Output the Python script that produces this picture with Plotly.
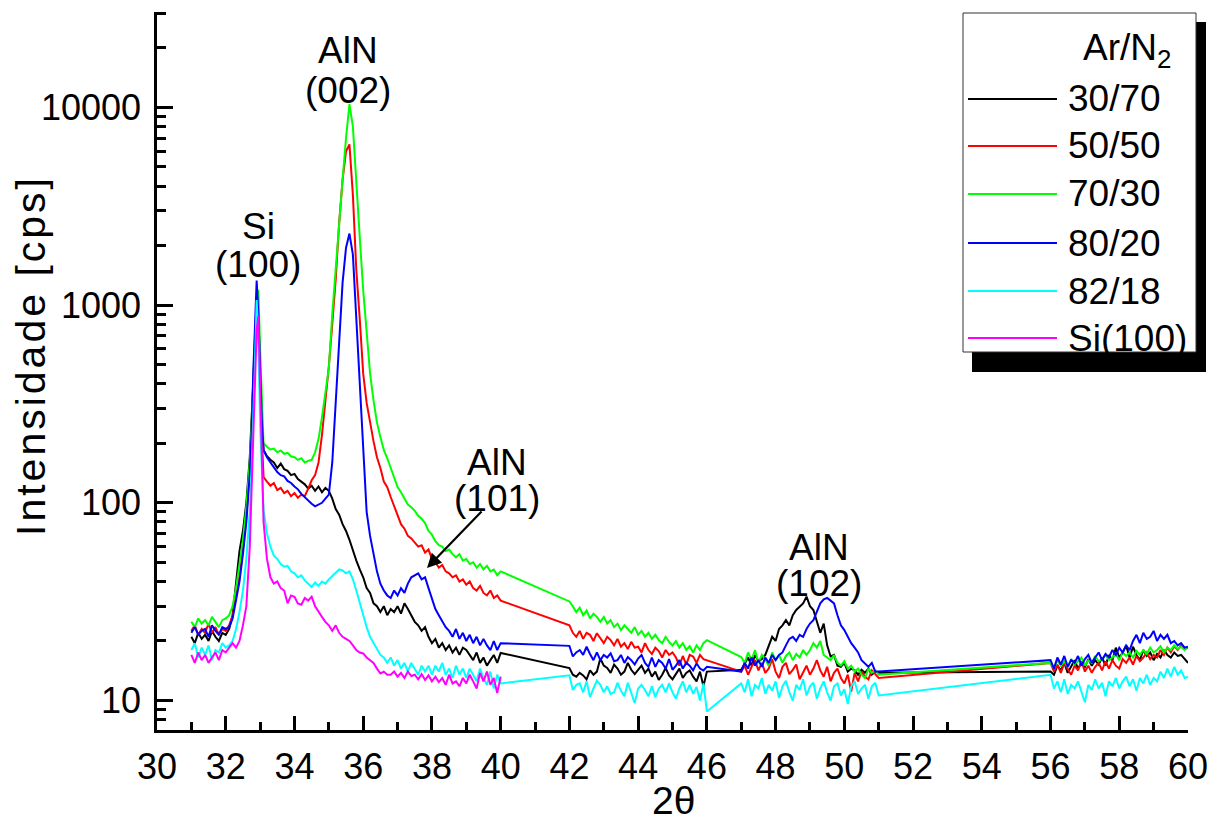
import plotly.graph_objects as go

# ---------------- data ----------------
X_A = [31.0, 31.1, 31.2, 31.3, 31.4, 31.5, 31.6, 31.7, 31.8, 31.9, 32.0,
       32.1, 32.2, 32.3, 32.4, 32.5, 32.6,
       32.7, 32.75, 32.8, 32.85, 32.9, 32.95, 33.0, 33.05, 33.1,
       33.2, 33.3, 33.4, 33.5, 33.6, 33.7, 33.8, 33.9,
       34.0, 34.1, 34.2, 34.3, 34.4, 34.5, 34.6, 34.7, 34.8, 34.9,
       35.0, 35.1, 35.2, 35.3, 35.4, 35.5, 35.6, 35.7, 35.8, 35.9,
       36.0, 36.1, 36.2, 36.3, 36.4, 36.5, 36.6, 36.7, 36.8, 36.9,
       37.0, 37.1, 37.2, 37.3, 37.4, 37.5, 37.6, 37.7, 37.8, 37.9,
       38.0, 38.1, 38.2, 38.3, 38.4, 38.5, 38.6, 38.7, 38.8, 38.9,
       39.0, 39.1, 39.2, 39.3, 39.4, 39.5, 39.6, 39.7, 39.8, 39.9,
       40.0]
X_B = [42.0, 42.1, 42.2, 42.3, 42.4, 42.5, 42.6, 42.7, 42.8, 42.9,
       43.0, 43.1, 43.2, 43.3, 43.4, 43.5, 43.6, 43.7, 43.8, 43.9,
       44.0, 44.1, 44.2, 44.3, 44.4, 44.5, 44.6, 44.7, 44.8, 44.9,
       45.0, 45.1, 45.2, 45.3, 45.4, 45.5, 45.6, 45.7, 45.8, 45.9, 46.0]
X_C = [47.0, 47.1, 47.2, 47.3, 47.4, 47.5, 47.6, 47.7, 47.8, 47.9,
       48.0, 48.1, 48.2, 48.3, 48.4, 48.5, 48.6, 48.7, 48.8, 48.9,
       49.0, 49.1, 49.2, 49.3, 49.4, 49.5, 49.6, 49.7, 49.8, 49.9,
       50.0, 50.1, 50.2, 50.3, 50.4, 50.5, 50.6, 50.7, 50.8, 50.9, 51.0]
X_D = [56.0, 56.1, 56.2, 56.3, 56.4, 56.5, 56.6, 56.7, 56.8, 56.9,
       57.0, 57.1, 57.2, 57.3, 57.4, 57.5, 57.6, 57.7, 57.8, 57.9,
       58.0, 58.1, 58.2, 58.3, 58.4, 58.5, 58.6, 58.7, 58.8, 58.9,
       59.0, 59.1, 59.2, 59.3, 59.4, 59.5, 59.6, 59.7, 59.8, 59.9, 60.0]

# 30/70
BLACK_A = [21, 19.5, 22, 20.5, 21.5, 20, 22.5, 21, 20, 22, 21.5,
           23, 27, 40, 57, 72, 100,
           170, 250, 400, 650, 800, 750, 400, 250, 185,
           172, 165, 160, 150, 158, 148, 145, 138,
           140, 132, 128, 124, 118, 122, 115, 121, 113, 119,
           115, 105, 93, 87, 78, 72, 65, 57, 51, 46,
           42, 37, 35, 31, 30, 28, 30, 27, 29, 28,
           30, 27.5, 31, 29, 27, 25, 24, 22.5, 23.5, 21,
           19.5, 20.5, 18.5, 19.5, 18, 19, 17.5, 18.5, 17, 18.5,
           18, 17, 16, 17.5, 15.5, 16.5, 15, 16, 17, 15.5,
           17.4]
BLACK_B = [14.6, 13.5, 13.2, 13.8, 13.4, 12.8, 14.2, 13.5, 14, 16.3,
           15, 14.6, 13.8, 15.2, 14.5, 13.5, 14, 15.5, 14.3, 13.6,
           14.3, 15, 13.8, 14.5, 13.2, 14, 12.7, 13.5, 14.6, 13.4,
           12.8, 13.7, 14.5, 13, 13.8, 14.2, 13.2, 12.5, 14, 11.8, 14]
BLACK_C = [14.3, 15.5, 16.5, 15, 17, 15.8, 16.2, 17, 19, 21,
           20, 23, 24, 25.5, 24, 27, 28.7, 30, 31, 33.5,
           30, 28.7, 25, 22, 24.5, 19, 16.7, 17, 15, 14.8,
           15.5, 14, 14.5, 14.2, 13.5, 14.3, 13.8, 14.5, 13.5, 14, 13.8]
BLACK_D = [14, 13.5, 15, 14.2, 15.5, 13.8, 15, 16, 14.5, 15.5,
           14.8, 16.2, 15, 16, 15.2, 16.5, 15, 17, 16, 18.5,
           16.5, 17.5, 19, 16.5, 18.7, 17, 16, 18, 16.8, 17.5,
           16, 17.2, 16.5, 18, 17, 16.5, 17.5, 16.8, 17, 16.2, 15.5]

# 50/50
RED_A = [22.5, 24, 21.5, 23, 22, 24.5, 22, 23.5, 21.5, 23, 22.5,
         24, 27, 33, 42, 58, 85,
         150, 230, 380, 600, 700, 800, 350, 200, 135,
         128, 122, 126, 116, 119, 112, 115, 108,
         112, 106, 110, 108, 118, 130, 138, 160, 220, 320,
         490, 800, 1350, 2600, 4300, 6000, 6500, 3600, 1500, 850,
         450, 320, 252, 205, 170, 150, 128, 120, 107, 96,
         86, 78, 74, 68, 66, 63, 60, 61, 56, 58,
         52, 50, 47, 48.5, 45, 44, 42, 43, 40, 41,
         38.5, 40, 37, 36, 38, 35, 34, 36, 33, 34,
         32]
RED_B = [24, 22, 21, 22.5, 20.5, 22, 21.5, 20, 21.9, 20.5,
         19.5, 21, 20.2, 19, 20.5, 18.7, 19.5, 18.2, 19.8, 18.5,
         18.7, 17.5, 19.5, 18, 17.2, 18.5, 17.8, 16.5, 18, 17,
         17.5, 16.5, 15, 16.8, 15.2, 17, 16.7, 15.5, 17, 16.2, 16]
RED_C = [14, 15, 13.5, 14.8, 16, 14.2, 15.5, 13.8, 14.5, 16.2,
         14, 13, 14.8, 15.5, 13.6, 14.3, 15.2, 12.8, 14, 15,
         13.5, 14.5, 16, 14.2, 13.2, 14.8, 12.5, 13.8, 14.5, 13,
         12.2, 13.5, 11.1, 13.8, 12.5, 14, 13.2, 12.8, 14.2, 13.5, 13]
RED_D = [15.5, 14, 15.2, 13.8, 15.5, 14.5, 13.5, 15, 14.2, 15.8,
         14, 15, 13.8, 14.8, 15.5, 14.2, 15.8, 14.5, 16, 15,
         14.5, 16.2, 15.5, 16.5, 15.2, 16.8, 15.8, 16.5, 17.5, 16.2,
         17, 16.5, 18, 17, 18.5, 17.5, 18.8, 18, 19, 18.2, 18.5]

# 70/30
GREEN_A = [25, 23.5, 26, 24.5, 25.5, 24, 26.5, 25, 23.5, 25.5, 26,
           27, 30, 37, 48, 65, 95,
           160, 240, 420, 700, 1000, 1195, 600, 320, 200,
           192, 186, 188, 180, 184, 177, 179, 172,
           170, 165, 168, 160, 163, 165, 180, 210, 270, 360,
           480, 900, 1550, 2700, 4300, 7000, 10400, 8000, 4000, 2200,
           1190, 720, 452, 330, 255, 215, 185, 168, 150, 135,
           120, 113, 106, 98, 95, 91, 86, 83, 79, 72,
           69, 64, 61, 60, 57, 58, 55, 53, 55, 51,
           52, 49, 50, 47, 49, 46, 48, 45, 46, 43,
           45]
GREEN_B = [31.7, 30, 28, 29.5, 27, 28.5, 26, 27.5, 26.5, 25,
           26.5, 24.5, 25.5, 23.5, 24.5, 22.7, 24, 23, 22, 23.5,
           21.5, 22.5, 21, 22, 20.5, 21.5, 20.2, 19.5, 21, 19.8,
           19, 20, 18.5, 19.5, 18, 18.8, 17.5, 19, 18, 19.5, 20.2]
GREEN_C = [16.6, 15.5, 17.5, 16, 18, 15.5, 17, 16.2, 15, 17.5,
           16, 17, 15.5, 16.8, 17.5, 16, 17.2, 16.5, 18, 17,
           18, 19.5, 18.5, 20, 17, 16.5, 16, 17, 15.5, 15,
           15.8, 14.5, 15, 14, 14.5, 13.5, 13, 14.5, 13.8, 14.2, 13.5]
GREEN_D = [15.5, 14.5, 16, 15, 15.8, 14.8, 16.2, 15.3, 15.8, 16.5,
           15, 16, 15.5, 16.8, 15.8, 16.2, 17, 16, 16.5, 17.2,
           16, 17.5, 16.8, 17.5, 16.5, 17.8, 17, 18, 17.2, 18.5,
           17.5, 18, 18.8, 17.5, 18.5, 18, 19, 18.2, 18.7, 18, 18.7]

# 80/20
BLUE_A = [22, 23.5, 21.5, 22.5, 23, 21, 24, 22.5, 21.5, 23.5, 23,
          23.5, 26, 32, 40, 55, 80,
          140, 220, 450, 800, 1330, 900, 450, 260, 185,
          170, 160, 150, 143, 138, 136, 129, 126,
          121, 117, 111, 107, 102, 99, 96, 98, 100, 105,
          110, 160, 320, 700, 1300, 1950, 2300, 1800, 850, 380,
          175, 90, 68, 55, 45, 39, 36, 34, 33, 36,
          34, 37, 35, 39, 42, 43, 44, 41, 42, 37,
          33, 29, 27, 25, 23.5, 22.5, 21, 23, 20.5, 22,
          20, 21.5, 19.5, 21, 19, 20.5, 19, 18, 20, 18,
          19.5]
BLUE_B = [18.9, 16.7, 17.5, 18, 17, 18.7, 17.2, 16, 17.5, 16,
          17, 16.5, 17.3, 15.8, 16, 17, 15.5, 16.6, 16, 15.2,
          16.3, 17, 15.5, 14.8, 16.5, 14.8, 16, 15.5, 14.5, 16.2,
          14.3, 15, 16, 14.5, 15.5, 15, 14.2, 15.4, 14.5, 14.2, 14.8]
BLUE_C = [14, 15.5, 14.5, 16.5, 15, 16, 14.8, 16.5, 15.5, 17,
          16, 17, 17.5, 19, 20.5, 21, 20, 21.5, 21, 23,
          24.5, 25.5, 28, 31, 32.5, 33, 32, 31, 27, 24,
          22.7, 21, 19.5, 18.5, 17.5, 16, 15.4, 14.8, 15.5, 14, 14]
BLUE_D = [16, 14.5, 16.5, 15.2, 16.8, 14.8, 16, 15.5, 16.8, 15,
          16.2, 17, 15.5, 16.5, 17.5, 16, 17.2, 16.5, 18, 17,
          18.5, 17.5, 19, 18, 20, 21.5, 19.5, 22, 20.5, 21,
          22.5, 20, 21.5, 20.5, 21.5, 19.5, 20, 19, 19.5, 18.5, 18.7]

# 82/18
CYAN_A = [18, 19.5, 16.5, 18.5, 17, 19, 16, 18, 17.5, 19.5, 18.5,
          19, 20, 23, 28, 36, 52,
          90, 140, 250, 500, 1060, 700, 250, 140, 92,
          70, 60, 54, 52, 49, 47.5, 48, 45,
          44, 42, 43, 40.5, 39, 37.5, 39.5, 38, 40, 39,
          41, 42.5, 44, 46, 45.5, 44, 45, 41, 36, 31,
          27, 23.5, 21, 19.5, 18, 17, 16.5, 15.5, 16.5, 15,
          16, 14.5, 15.5, 14, 15.5, 14.5, 13.5, 15, 14, 15,
          13.5, 15, 14, 15.5, 13.5, 14.5, 13, 15, 13.5, 14.5,
          13, 14.5, 13.5, 12.5, 14.5, 13, 12, 14, 11.5, 13.5,
          12.2]
CYAN_B = [13.4, 11.3, 12, 12.2, 11, 12.5, 10.4, 11.5, 12.6, 12,
          11, 11.8, 10.8, 11, 12.3, 11.2, 10.5, 12.3, 11, 9.7,
          11.5, 12, 11.3, 10.5, 11.8, 10.4, 11.5, 12, 11, 12.2,
          11, 10.2, 11.5, 12.5, 11, 12, 10.8, 11.7, 10, 12.2, 8.8]
CYAN_C = [12.2, 11, 12.8, 10.5, 12, 11.5, 13, 10.8, 12, 11.2,
          12.5, 10.3, 11.8, 12.6, 11, 10, 12, 11.3, 12.8, 10.6,
          11.8, 12.3, 10.2, 11.5, 12.5, 11, 10, 11.8, 12.2, 10.6,
          11.4, 9.6, 11.8, 12.5, 10.8, 11.5, 12, 10.2, 11.8, 12.3, 10.6]
CYAN_D = [13.5, 11.5, 12.5, 11, 12.8, 10.8, 12, 11.5, 12.5, 11,
          9.8, 12, 11.3, 12.8, 11.5, 12.3, 10.5, 12.5, 11.8, 13,
          11.5, 12.5, 13.2, 11.8, 12.8, 11.2, 13, 12.2, 13.5, 12,
          13, 12.5, 14, 13, 14.5, 13.2, 14.8, 13.5, 14.2, 13, 13.2]

# Si(100) substrate (only 31-40)
MAGENTA_A = [17, 15.5, 17.5, 16, 17, 15.5, 16.5, 17.5, 16, 18, 17.5,
             18.5, 19.5, 18.5, 20, 24, 30,
             60, 110, 220, 420, 750, 880, 400, 200, 80,
             52, 42, 39, 40, 37, 36, 31, 34,
             33.5, 31, 30.5, 33, 32, 33.5, 30, 28, 26.5, 25,
             24, 22.5, 24, 22, 21, 20.5, 20, 19, 18, 17.5,
             17.3, 16.5, 16, 15.5, 14.5, 13.7, 14, 13.5, 13.5, 14,
             13.2, 13.8, 13, 14, 13.3, 13.5, 12.8, 13.6, 12.7, 13.4,
             12.5, 13.2, 12.4, 13, 12, 13.5, 12.2, 12.5, 11.8, 13,
             12.2, 13.5, 12.5, 11.5, 13.8, 12.5, 14, 12, 13, 10.9,
             13.2]

SERIES = [
    ("30/70", "#000000", [BLACK_A, BLACK_B, BLACK_C, BLACK_D]),
    ("50/50", "#ff0000", [RED_A, RED_B, RED_C, RED_D]),
    ("70/30", "#00ff00", [GREEN_A, GREEN_B, GREEN_C, GREEN_D]),
    ("80/20", "#0000ff", [BLUE_A, BLUE_B, BLUE_C, BLUE_D]),
    ("82/18", "#00ffff", [CYAN_A, CYAN_B, CYAN_C, CYAN_D]),
    ("Si(100)", "#ff00ff", [MAGENTA_A]),
]
X_SEGS = [X_A, X_B, X_C, X_D]

Y_TICKS = [10, 100, 1000, 10000]
Y_TICKTEXT = ["10", "100", "1000", "10000"]
X_TICKS = list(range(30, 61, 2))

# ---------------- figure ----------------
FONT = "Liberation Sans, Arial, Helvetica, sans-serif"
# the page body has an 8 px margin, so the figure is 8 px smaller
W, H = 1213, 815
L, R, T, B = 149, 33, 4, 93
PW, PH = W - L - R, H - T - B
PAGE_LEFT, PAGE_BOTTOM = 157, 730   # plot area edges in page pixels


def px(xp):
    return (xp - PAGE_LEFT) / PW


def py(yp):
    return (PAGE_BOTTOM - yp) / PH


fig = go.Figure()
for name, color, segs in SERIES:
    xs, ys = [], []
    for xseg, yseg in zip(X_SEGS, segs):
        xs += xseg
        ys += yseg
    fig.add_trace(go.Scatter(x=xs, y=ys, mode="lines", name=name,
                             line=dict(color=color, width=2),
                             showlegend=False))

minor_y = []
for d in [1, 10, 100, 1000, 10000]:
    for k in range(2, 10):
        v = k * d
        if 7 <= v <= 30000:
            minor_y.append(v)
all_y = sorted(minor_y + Y_TICKS)

axis_common = dict(showgrid=False, zeroline=False, showline=True,
                   linecolor="black", linewidth=2.5, automargin=False)

fig.update_layout(
    width=W, height=H,
    margin=dict(l=L, r=R, t=T, b=B),
    plot_bgcolor="white", paper_bgcolor="white",
    font=dict(family=FONT, size=36, color="black"),
    showlegend=False,
    xaxis=dict(range=[30, 60], tickmode="array", tickvals=X_TICKS,
               ticks="inside", ticklen=14, tickwidth=2.5, tickcolor="black",
               minor=dict(dtick=1, tick0=30, ticks="inside", ticklen=8,
                          tickwidth=2.5, tickcolor="black"),
               tickfont=dict(size=36), ticklabelstandoff=3,
               **axis_common),
    yaxis=dict(type="log", range=[0.8508, 4.4826], tickmode="array",
               tickvals=Y_TICKS, ticktext=Y_TICKTEXT,
               ticks="inside", ticklen=16, tickwidth=2.5, tickcolor="black",
               minor=dict(tickmode="array", tickvals=minor_y, ticks="inside",
                          ticklen=9, tickwidth=2.5, tickcolor="black"),
               tickfont=dict(size=36), ticklabelstandoff=6,
               **axis_common),
    xaxis2=dict(overlaying="x", side="top", anchor="y", range=[30, 60],
                tickmode="array", tickvals=list(range(30, 61)),
                ticks="inside", ticklen=4, tickwidth=2, tickcolor="black",
                showticklabels=False, **axis_common),
    yaxis2=dict(overlaying="y", side="right", anchor="x", type="log",
                range=[0.8508, 4.4826], tickmode="array", tickvals=all_y,
                ticks="inside", ticklen=4, tickwidth=2, tickcolor="black",
                showticklabels=False, **axis_common),
)

# axis titles
fig.add_annotation(text='<span style="letter-spacing:3px">Intensidade [cps]</span>',
                   xref="paper", yref="paper",
                   x=px(31), y=py(356), textangle=-90, showarrow=False,
                   xanchor="center", yanchor="middle",
                   font=dict(size=41, family=FONT))
fig.add_annotation(text="2θ", xref="paper", yref="paper",
                   x=px(673), y=py(800), showarrow=False,
                   xanchor="center", yanchor="middle",
                   font=dict(size=39, family=FONT))

# peak labels (two lines each)
LABELS = [
    ("AlN", 35.55, 51), ("(002)", 35.55, 90),
    ("Si", 32.95, 226), ("(100)", 32.95, 264),
    ("AlN", 39.9, 462), ("(101)", 39.9, 498),
    ("AlN", 49.25, 547), ("(102)", 49.25, 583),
]
for txt, xv, ypix in LABELS:
    fig.add_annotation(text=txt, xref="x", yref="paper", x=xv, y=py(ypix),
                       showarrow=False, xanchor="center", yanchor="middle",
                       font=dict(size=37, family=FONT))

# arrow to AlN(101)
fig.add_annotation(text="", xref="paper", yref="paper",
                   x=px(427), y=py(568), ax=483 - 427, ay=510 - 568,
                   showarrow=True, arrowhead=2, arrowsize=1.3, arrowwidth=2.2,
                   arrowcolor="black")

# legend box with shadow
shapes = [
    dict(type="rect", xref="paper", yref="paper", x0=px(972), x1=px(1206),
         y0=py(372), y1=py(22), fillcolor="black", line=dict(width=0),
         layer="above"),
    dict(type="rect", xref="paper", yref="paper", x0=px(963), x1=px(1196),
         y0=py(352), y1=py(13), fillcolor="white",
         line=dict(color="#333333", width=1), layer="above"),
]
rows = [99, 146, 194, 243, 291, 338]
for (name, color, _), ry in zip(SERIES, rows):
    shapes.append(dict(type="line", xref="paper", yref="paper",
                       x0=px(968), x1=px(1057), y0=py(ry), y1=py(ry),
                       line=dict(color=color, width=2), layer="above"))
    fig.add_annotation(text=name, xref="paper", yref="paper",
                       x=px(1066), y=py(ry), showarrow=False,
                       xanchor="left", yanchor="middle",
                       font=dict(size=37, family=FONT))
fig.add_annotation(text="Ar/N<sub>2</sub>", xref="paper", yref="paper",
                   x=px(1173), y=py(50), showarrow=False,
                   xanchor="right", yanchor="middle",
                   font=dict(size=37, family=FONT))
fig.update_layout(shapes=shapes)

fig.write_html("out.html")
